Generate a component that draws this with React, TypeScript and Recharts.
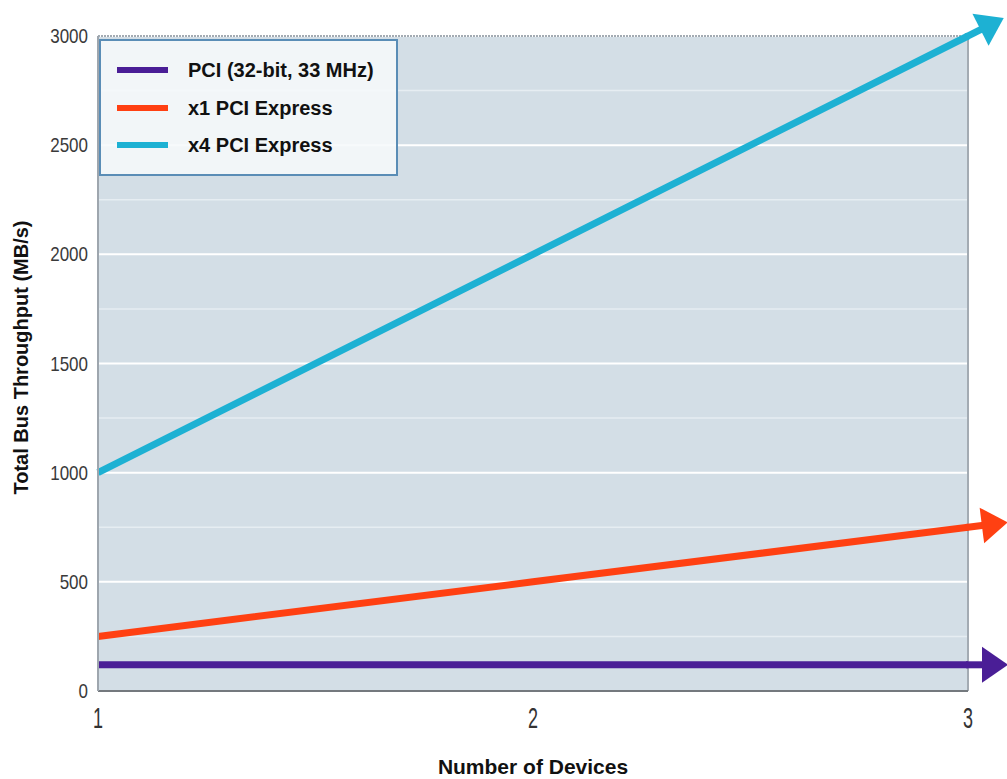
import React from 'react';
import { LineChart, Line, XAxis, YAxis, CartesianGrid, Legend, ReferenceLine } from 'recharts';

const devices = [1, 2, 3];
const pciValues = [120, 120, 120];
const x1Values = [250, 500, 750];
const x4Values = [1000, 2000, 3000];
const yTicks = [0, 500, 1000, 1500, 2000, 2500, 3000];
const minorGrid = [250, 750, 1250, 1750, 2250, 2750];
const xTicks = [1, 2, 3];
const seriesNames = ['PCI (32-bit, 33 MHz)', 'x1 PCI Express', 'x4 PCI Express'];
const seriesColors = ['#4a1e96', '#ff4012', '#1db1d3'];

const data = devices.map((d, i) => ({ devices: d, pci: pciValues[i], x1: x1Values[i], x4: x4Values[i] }));

const makeArrowDot = (color: string, name: string) => (props: any) => {
  const { cx, cy, index, points } = props;
  const key = `dot-${name}-${index}`;
  if (!points || index !== points.length - 1 || index === 0) return <g key={key} />;
  const prev = points[index - 1];
  const dx = cx - prev.x;
  const dy = cy - prev.y;
  const len = Math.sqrt(dx * dx + dy * dy) || 1;
  const ux = dx / len;
  const uy = dy / len;
  const nx = -uy;
  const ny = ux;
  const L = 40;
  const head = 26;
  const half = 18;
  const tx = cx + ux * L;
  const ty = cy + uy * L;
  const bx = tx - ux * head;
  const by = ty - uy * head;
  return (
    <g key={key}>
      <line x1={cx - ux * 2} y1={cy - uy * 2} x2={bx + ux * 4} y2={by + uy * 4} stroke={color} strokeWidth={7} />
      <polygon points={`${tx},${ty} ${bx + nx * half},${by + ny * half} ${bx - nx * half},${by - ny * half}`} fill={color} />
    </g>
  );
};

const XTick = (props: any) => {
  const { x, y, payload } = props;
  return (
    <g transform={`translate(${x},${y})`}>
      <text
        transform="scale(0.6,1)"
        textAnchor="middle"
        dy="0.71em"
        fontFamily='"Liberation Sans", Arial, sans-serif'
        fontSize={30}
        fill="#333"
      >
        {payload.value}
      </text>
    </g>
  );
};

const YTick = (props: any) => {
  const { x, y, payload } = props;
  return (
    <g transform={`translate(${x},${y})`}>
      <text
        transform="scale(0.85,1)"
        textAnchor="end"
        dy="0.355em"
        fontFamily='"Liberation Sans", Arial, sans-serif'
        fontSize={20}
        fill="#3a3a3a"
      >
        {payload.value}
      </text>
    </g>
  );
};

const LegendBox = (props: any) => {
  const payload = props.payload || [];
  return (
    <div
      style={{
        width: 299,
        height: 137,
        boxSizing: 'border-box',
        border: '2px solid #5a8db6',
        background: 'rgba(246,249,251,0.88)',
        position: 'relative',
        fontFamily: '"Liberation Sans", Arial, sans-serif',
        fontWeight: 'bold',
        fontSize: 20,
        color: '#111',
      }}
    >
      {payload.map((p: any, i: number) => (
        <div key={i} style={{ position: 'absolute', left: 0, top: 29 + i * 37.5 - 14, height: 28, width: '100%' }}>
          <div style={{ position: 'absolute', left: 16, top: 11, width: 51, height: 6, background: p.color }} />
          <div style={{ position: 'absolute', left: 87, top: 2, lineHeight: '24px', whiteSpace: 'nowrap' }}>{p.value}</div>
        </div>
      ))}
    </div>
  );
};

const YLabel = (props: any) => {
  const vb = props.viewBox || { y: 36, height: 655 };
  const cy = vb.y + vb.height / 2 - 6;
  return (
    <text
      x={28}
      y={cy}
      transform={`rotate(-90, 28, ${cy})`}
      textAnchor="middle"
      fontFamily='"Liberation Sans", Arial, sans-serif'
      fontWeight="bold"
      fontSize={20}
      fill="#111"
    >
      Total Bus Throughput (MB/s)
    </text>
  );
};

export default function App() {
  return (
    <div style={{ position: 'absolute', left: 0, top: 0, width: 1007, height: 779, background: '#fff' }}>
      <LineChart width={1007} height={779} data={data} margin={{ top: 36, right: 39, left: 0, bottom: 0 }}>
        <CartesianGrid vertical={false} stroke="#ffffff" strokeWidth={2} fill="#d3dee6" />
        {minorGrid.map((v) => (
          <ReferenceLine key={v} y={v} stroke="#e6edf2" strokeWidth={1.5} />
        ))}
        <ReferenceLine y={3000} stroke="#a3abb3" strokeWidth={2} strokeDasharray="2 1" />
        <ReferenceLine x={3} stroke="#a3abb3" strokeWidth={2} />
        <XAxis
          type="number"
          dataKey="devices"
          domain={[1, 3]}
          ticks={xTicks}
          tickLine={false}
          axisLine={{ stroke: '#74797e', strokeWidth: 2 }}
          tickSize={8}
          tickMargin={8}
          height={88}
          tick={XTick}
          label={{
            value: 'Number of Devices',
            position: 'insideBottom',
            offset: 5,
            style: { fontFamily: '"Liberation Sans", Arial, sans-serif', fontWeight: 'bold', fontSize: 21, fill: '#111' },
          }}
        />
        <YAxis
          type="number"
          domain={[0, 3000]}
          ticks={yTicks}
          width={98}
          tickLine={false}
          tickSize={6}
          tickMargin={4}
          axisLine={{ stroke: '#9ea6ae', strokeWidth: 2 }}
          tick={YTick}
          label={{ content: YLabel }}
        />
        <Legend
          layout="vertical"
          align="center"
          verticalAlign="middle"
          wrapperStyle={{ left: 99, top: 39, width: 299, height: 137 }}
          content={LegendBox}
        />
        <Line
          type="linear"
          dataKey="pci"
          name={seriesNames[0]}
          stroke={seriesColors[0]}
          strokeWidth={7}
          dot={makeArrowDot(seriesColors[0], 'pci')}
          activeDot={false}
          isAnimationActive={false}
        />
        <Line
          type="linear"
          dataKey="x1"
          name={seriesNames[1]}
          stroke={seriesColors[1]}
          strokeWidth={7}
          dot={makeArrowDot(seriesColors[1], 'x1')}
          activeDot={false}
          isAnimationActive={false}
        />
        <Line
          type="linear"
          dataKey="x4"
          name={seriesNames[2]}
          stroke={seriesColors[2]}
          strokeWidth={7}
          dot={makeArrowDot(seriesColors[2], 'x4')}
          activeDot={false}
          isAnimationActive={false}
        />
      </LineChart>
    </div>
  );
}
